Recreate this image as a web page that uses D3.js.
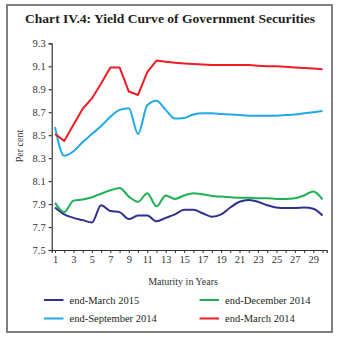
<!DOCTYPE html>
<html>
<head>
<meta charset="utf-8">
<script src="https://cdn.jsdelivr.net/npm/d3@7"></script>
<style>
  body { margin: 0; background: #fff; }
  svg { display: block; font-family: "Liberation Serif", "DejaVu Serif", serif; }
</style>
</head>
<body>
<svg id="chart" width="343" height="342"></svg>
<script>
// maturities in years
const years = d3.range(1, 31);

// yields (per cent) by maturity
const endMarch2015 = [7.87, 7.81, 7.78, 7.76, 7.74, 7.89, 7.84, 7.83, 7.77, 7.80,
  7.80, 7.75, 7.78, 7.81, 7.85, 7.85, 7.82, 7.79, 7.81, 7.87,
  7.92, 7.935, 7.92, 7.89, 7.87, 7.865, 7.865, 7.87, 7.86, 7.80];
const endDecember2014 = [7.91, 7.83, 7.93, 7.94, 7.96, 7.99, 8.02, 8.04, 7.965, 7.92,
  7.995, 7.88, 7.975, 7.945, 7.975, 7.995, 7.985, 7.97, 7.965, 7.96,
  7.955, 7.955, 7.95, 7.95, 7.945, 7.945, 7.95, 7.975, 8.01, 7.94];
const endSeptember2014 = [8.57, 8.32, 8.36, 8.44, 8.51, 8.58, 8.66, 8.72, 8.735, 8.51,
  8.76, 8.80, 8.72, 8.645, 8.65, 8.68, 8.69, 8.69, 8.685, 8.68,
  8.675, 8.67, 8.67, 8.67, 8.67, 8.675, 8.68, 8.69, 8.70, 8.71];
const endMarch2014 = [8.51, 8.45, 8.59, 8.73, 8.82, 8.95, 9.09, 9.09, 8.88, 8.85,
  9.05, 9.15, 9.14, 9.13, 9.125, 9.12, 9.115, 9.11, 9.11, 9.11,
  9.11, 9.11, 9.105, 9.10, 9.10, 9.095, 9.09, 9.085, 9.08, 9.075];

const yTicks = [7.5, 7.7, 7.9, 8.1, 8.3, 8.5, 8.7, 8.9, 9.1, 9.3];

const series = [
  { name: "end-March 2015", values: endMarch2015, color: "#2e3192", curve: d3.curveMonotoneX },
  { name: "end-December 2014", values: endDecember2014, color: "#1db153", curve: d3.curveMonotoneX },
  { name: "end-September 2014", values: endSeptember2014, color: "#1fa9e8", curve: d3.curveMonotoneX },
  { name: "end-March 2014", values: endMarch2014, color: "#ee1c25", curve: d3.curveLinear }
];

const svg = d3.select("#chart");

// outer frame
svg.append("rect")
  .attr("x", 7).attr("y", 5)
  .attr("width", 325).attr("height", 327)
  .attr("fill", "none")
  .attr("stroke", "#7f7f7f")
  .attr("stroke-width", 2);

svg.append("text")
  .attr("x", 170).attr("y", 23)
  .attr("text-anchor", "middle")
  .attr("font-size", 13.5)
  .attr("font-weight", "bold")
  .attr("fill", "#231f20")
  .attr("textLength", 290)
  .attr("lengthAdjust", "spacingAndGlyphs")
  .text("Chart IV.4: Yield Curve of Government Securities");

const x = d3.scaleLinear().domain([0.64, 30.45]).range([51.7, 326.7]);
const y = d3.scaleLinear().domain([7.5, 9.3]).range([250, 43.3]);

// y axis
const yAxis = svg.append("g")
  .attr("transform", "translate(51.7,0)")
  .call(d3.axisLeft(y).tickValues(yTicks).tickFormat(d3.format(".1f")).tickSize(3).tickPadding(3));

// x axis: tick every year, label odd years
const xAxis = svg.append("g")
  .attr("transform", "translate(0,250)")
  .call(d3.axisBottom(x).tickValues(years)
    .tickFormat(d => d % 2 === 1 ? d : "").tickSize(3).tickPadding(3));

[yAxis, xAxis].forEach(g => {
  g.select(".domain").attr("stroke", "#333").attr("stroke-width", 1.2);
  g.selectAll(".tick line").attr("stroke", "#333");
  g.selectAll(".tick text")
    .attr("fill", "#333")
    .attr("font-size", 10.5)
    .attr("font-family", "Liberation Serif, serif");
});
yAxis.selectAll(".tick line").attr("stroke-width", 1.2);

svg.append("text")
  .attr("transform", "translate(23,146) rotate(-90)")
  .attr("text-anchor", "middle")
  .attr("font-size", 10)
  .attr("fill", "#333")
  .text("Per cent");

svg.append("text")
  .attr("x", 183).attr("y", 285)
  .attr("text-anchor", "middle")
  .attr("font-size", 10)
  .attr("fill", "#333")
  .text("Maturity in Years");

// yield curves
series.forEach(s => {
  const line = d3.line()
    .x((d, i) => x(years[i]))
    .y(d => y(d))
    .curve(s.curve);
  svg.append("path")
    .datum(s.values)
    .attr("d", line)
    .attr("fill", "none")
    .attr("stroke", s.color)
    .attr("stroke-width", 2)
    .attr("stroke-linejoin", "round");
});

// legend, two columns
const legend = svg.selectAll(".legend")
  .data(series)
  .enter().append("g")
  .attr("class", "legend")
  .attr("transform", (d, i) => `translate(${i % 2 === 0 ? 44 : 199.5},${i < 2 ? 300 : 318.5})`);

legend.append("line")
  .attr("x1", 0).attr("x2", 19.5)
  .attr("y1", 0).attr("y2", 0)
  .attr("stroke", d => d.color)
  .attr("stroke-width", 2);

legend.append("text")
  .attr("x", 25.5).attr("y", 3.5)
  .attr("font-size", 10.5)
  .attr("fill", "#231f20")
  .text(d => d.name);
</script>
</body>
</html>
